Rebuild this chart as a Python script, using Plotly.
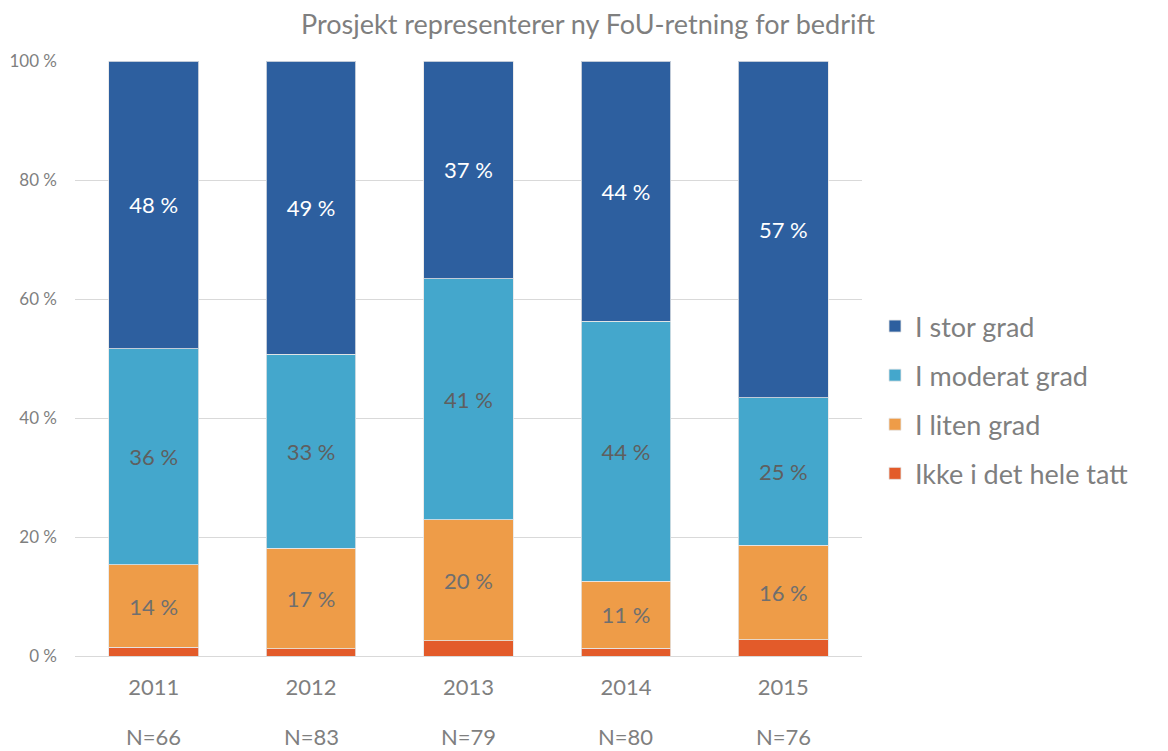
import plotly.graph_objects as go

years = ["2011", "2012", "2013", "2014", "2015"]
n_labels = ["N=66", "N=83", "N=79", "N=80", "N=76"]
ikke = [1.5, 1.2, 2.6, 1.3, 2.7]
liten = [13.8, 16.9, 20.3, 11.3, 15.9]
moderat = [36.3, 32.6, 40.5, 43.7, 24.8]
stor = [48.4, 49.3, 36.6, 43.7, 56.6]
y_ticks = [0, 20, 40, 60, 80, 100]

FONT = "Lato"
GRAY = "#7f7f7f"

series = [
    ("Ikke i det hele tatt", ikke, "#E35B2A", None),
    ("I liten grad", liten, "#EE9C48", "#6f6f6f"),
    ("I moderat grad", moderat, "#44A7CC", "#5f5f5f"),
    ("I stor grad", stor, "#2D5F9F", "#ffffff"),
]

fig = go.Figure()
for i, (name, vals, color, tcol) in enumerate(series):
    fig.add_trace(go.Bar(
        name=name, x=years, y=vals, legendgroup=name, legendrank=1000 - i,
        marker=dict(color=color, line=dict(color="rgba(230,230,230,0.8)", width=1)),
        texttemplate="%{y:.0f} %" if tcol else "",
        textposition="inside" if tcol else "none",
        insidetextanchor="middle",
        textfont=dict(family=FONT, size=22, color=tcol or "#000"),
        hoverinfo="skip",
    ))

# N= labels under each category (category index positions)
for idx, n in enumerate(n_labels):
    fig.add_annotation(x=idx, xref="x", y=-(736 - 656) / 595, yref="paper",
                       text=n, showarrow=False, yanchor="middle",
                       font=dict(family=FONT, size=22, color=GRAY))

W, H = 1160, 743
fig.update_layout(
    barmode="stack",
    bargap=0.43,
    width=W, height=H,
    margin=dict(l=67, r=306, t=53, b=95, autoexpand=False),
    paper_bgcolor="white", plot_bgcolor="white",
    title=dict(text="Prosjekt representerer ny FoU-retning for bedrift",
               x=0.5, xanchor="center", y=1 - 17 / H, yanchor="middle", yref="container",
               font=dict(family=FONT, size=27, color=GRAY)),
    legend=dict(traceorder="grouped", tracegroupgap=11,
                x=1.0165, xanchor="left", y=(656 - 400) / 595, yanchor="middle",
                font=dict(family=FONT, size=27, color=GRAY), itemwidth=30),
    font=dict(family=FONT),
)
fig.update_xaxes(
    type="category", range=[-0.5, len(years) - 0.5], automargin=False,
    tickfont=dict(family=FONT, size=22, color=GRAY),
    showline=True, linecolor="#d9d9d9", ticks="", ticklabelstandoff=12,
)
fig.update_yaxes(
    range=[0, 100], tickvals=y_ticks, ticktext=[f"{v} %" for v in y_ticks], automargin=False,
    tickfont=dict(family=FONT, size=17, color=GRAY),
    gridcolor="#d9d9d9", gridwidth=1, zeroline=False, ticks="", ticklabelstandoff=17,
)

fig.write_html("out.html")
